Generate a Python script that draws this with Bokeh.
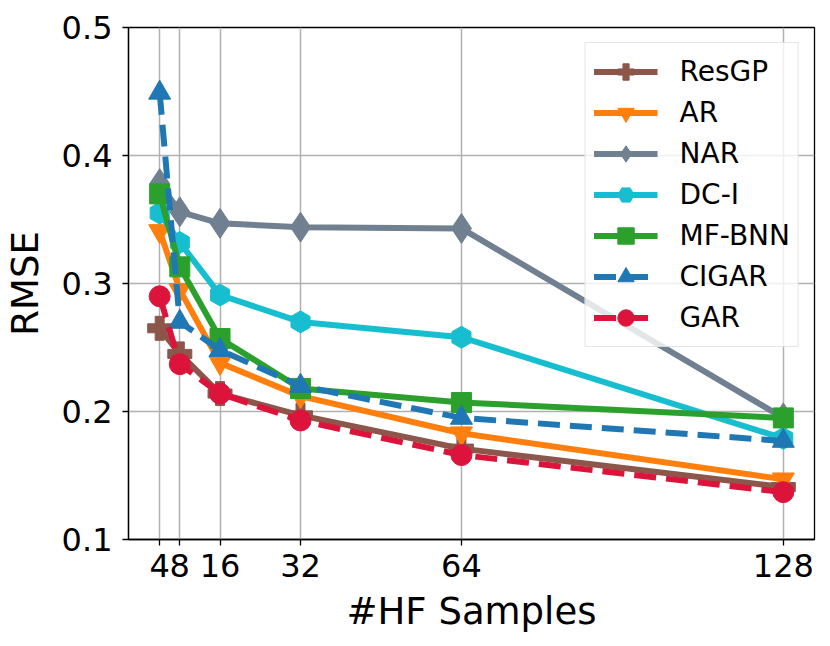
import math
from bokeh.plotting import figure
from bokeh.models import FixedTicker, Legend, LegendItem, Range1d
from bokeh.embed import file_html
from bokeh.resources import INLINE

hf_samples = [4, 8, 16, 32, 64, 128]
resgp = [0.265, 0.245, 0.214, 0.197, 0.171, 0.141]
ar = [0.341, 0.295, 0.238, 0.212, 0.183, 0.147]
nar = [0.378, 0.356, 0.347, 0.344, 0.343, 0.195]
dci = [0.355, 0.332, 0.291, 0.270, 0.258, 0.179]
mfbnn = [0.370, 0.313, 0.257, 0.218, 0.207, 0.195]
cigar = [0.449, 0.270, 0.248, 0.220, 0.195, 0.177]
gar = [0.290, 0.237, 0.214, 0.193, 0.166, 0.137]

x_ticks = [4, 8, 16, 32, 64, 128]
y_ticks = [0.1, 0.2, 0.3, 0.4, 0.5]

series = [
    ("ResGP", resgp, "#8c564b", "plus", "solid", 24, 0),
    ("AR", ar, "#ff7f0e", "inverted_triangle", "solid", 22, 0),
    ("NAR", nar, "#708090", "diamond", "solid", 30, 0),
    ("DC-I", dci, "#17becf", "hex", "solid", 22, math.pi / 2),
    ("MF-BNN", mfbnn, "#2ca02c", "square", "solid", 20, 0),
    ("CIGAR", cigar, "#1f77b4", "triangle", "22 10", 22, 0),
    ("GAR", gar, "#dc143c", "circle", "22 10", 21, 0),
]

FONT = "DejaVu Sans"

p = figure(width=822, height=638, output_backend="svg", toolbar_location=None,
           title=None, x_range=Range1d(-2.2, 134.2), y_range=Range1d(0.1, 0.5),
           min_border_left=128, min_border_right=8, min_border_top=27, min_border_bottom=99)

p.outline_line_color = "black"
p.outline_line_width = 1.3
p.background_fill_color = "white"
p.border_fill_color = "white"

for ax in (p.xaxis[0], p.yaxis[0]):
    ax.major_label_text_font = FONT
    ax.major_label_text_font_size = "32px"
    ax.major_label_text_color = "black"
    ax.axis_label_text_font = FONT
    ax.axis_label_text_font_size = "37px"
    ax.axis_label_text_font_style = "normal"
    ax.axis_label_text_color = "black"
    ax.axis_line_color = "black"
    ax.axis_line_width = 1.3
    ax.major_tick_line_width = 1.3
    ax.major_tick_out = 6
    ax.major_tick_in = 0
    ax.minor_tick_out = 0
    ax.minor_tick_in = 0

p.xaxis.ticker = FixedTicker(ticks=x_ticks)
p.yaxis.ticker = FixedTicker(ticks=y_ticks)
p.xaxis.axis_label = "#HF Samples"
p.yaxis.axis_label = "RMSE"
p.xaxis.major_label_standoff = 8
p.yaxis.major_label_standoff = 10
p.xaxis.axis_label_standoff = 10
p.yaxis.axis_label_standoff = 12

p.xgrid.ticker = FixedTicker(ticks=x_ticks)
p.ygrid.ticker = FixedTicker(ticks=y_ticks)
for g in (p.xgrid[0], p.ygrid[0]):
    g.grid_line_color = "#b0b0b0"
    g.grid_line_width = 1.5

items = []
for name, ys, color, marker, dash, size, ang in series:
    r1 = p.line(hf_samples, ys, line_color=color, line_width=6, line_dash=dash)
    r2 = p.scatter(hf_samples, ys, marker=marker, size=size, angle=ang,
                   fill_color=color, line_color=color, line_width=1)
    items.append(LegendItem(label=name, renderers=[r1, r2]))

legend = Legend(items=items, location="top_right")
legend.margin = 15
legend.padding = 8
legend.spacing = 0
legend.glyph_width = 64
legend.glyph_height = 41
legend.label_height = 41
legend.label_standoff = 22
legend.label_text_font = FONT
legend.label_text_font_size = "28px"
legend.label_text_color = "black"
legend.border_line_color = "#cccccc"
legend.border_line_width = 1.3
legend.background_fill_color = "white"
legend.background_fill_alpha = 0.8
p.add_layout(legend, "center")

open("out.html", "w").write(file_html(p, INLINE))
